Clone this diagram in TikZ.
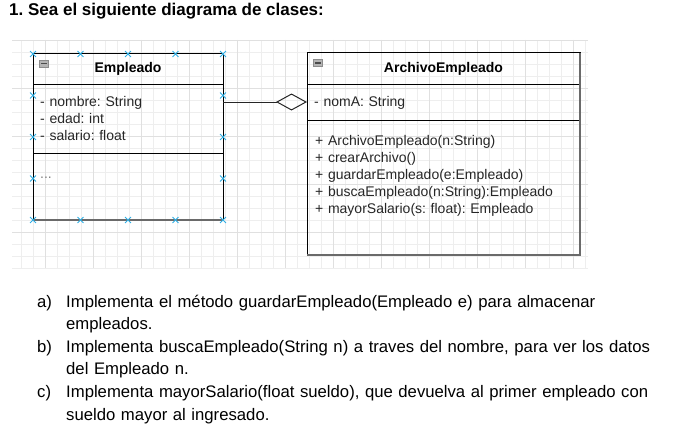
\documentclass[tikz,border=0pt]{standalone}
\usepackage{fontspec}
\setmainfont{Liberation Sans}
\usepackage{xcolor}
\usetikzlibrary{positioning,calc,arrows.meta,shapes.misc}
\definecolor{gridminor}{HTML}{EEEEEE}
\definecolor{gridmajor}{HTML}{E0E0E0}
\definecolor{handleblue}{HTML}{2FAEE4}
\definecolor{edgegray}{HTML}{6A6A6A}
\definecolor{togglefill}{HTML}{B4B4B4}
\definecolor{toggledraw}{HTML}{8C8C8C}
\frenchspacing
\newcommand{\umlfont}{\fontsize{14}{17}\selectfont}
\tikzset{
	compartment/.style={draw=black, line width=1pt, inner sep=0pt, outer sep=0pt, anchor=north west},
	header/.style={font=\umlfont\bfseries},
	members/.style={font=\umlfont, text=black!85, align=left, inner sep=0pt, anchor=base west, text width=260pt},
	handle/.style={cross out, draw=handleblue, line width=0.9pt, minimum size=5pt, inner sep=0pt},
	toggle/.style={draw=toggledraw, fill=togglefill, minimum width=9pt, minimum height=7pt, inner sep=0pt,
		path picture={\draw[line width=1pt, black!70] ([xshift=1.8pt]path picture bounding box.west) -- ([xshift=-1.8pt]path picture bounding box.east);}},
	aggregation/.style={draw=black!85, line width=1pt, -{Diamond[open, length=31pt, width=17pt]}},
	task/.style={font=\fontsize{16.7}{22.6}\selectfont, align=left, inner sep=0pt, anchor=base west, text width=600pt},
	tasklabel/.style={font=\fontsize{16.7}{22.6}\selectfont, inner sep=0pt, anchor=base west}
}

\begin{document}
\begin{tikzpicture}[x=1pt, y=-1pt]
	\useasboundingbox (0,0) rectangle (690,428);
	
	% canvas grid
	\foreach \gx in {21,33,...,585} \draw[gridminor, line width=0.6pt] (\gx,40) -- (\gx,268);
	\foreach \gy in {40,52,...,268} \draw[gridminor, line width=0.6pt] (12,\gy) -- (588,\gy);
	\foreach \gx in {45,93,...,573} \draw[gridmajor, line width=0.6pt] (\gx,40) -- (\gx,268);
	\foreach \gy in {40,88,...,232} \draw[gridmajor, line width=0.6pt] (12,\gy) -- (588,\gy);
	
	\node[font=\fontsize{17}{20}\selectfont\bfseries, inner sep=0pt, anchor=base west] (title) at (9,16) {1. Sea el siguiente diagrama de clases:};
	
	% class Empleado
	\node[compartment, header, minimum width=190pt, minimum height=30pt] (empleado-title) at (33,54) {Empleado};
	\node[compartment, minimum width=190pt, minimum height=69pt, below=0pt of empleado-title] (empleado-attrs) {};
	\node[compartment, minimum width=190pt, minimum height=67pt, below=0pt of empleado-attrs] (empleado-ops) {};
	\draw[edgegray, line width=1.6pt] (empleado-ops.south west) -- (empleado-ops.south east);
	\node[toggle] (empleado-toggle) at ([xshift=11pt,yshift=-9.5pt]empleado-title.north west) {};
	\node[members] (empleado-attr-list) at ([xshift=7pt,yshift=-22.7pt]empleado-attrs.north west) {- nombre: String\\- edad: int\\- salario: float};
	\node[members, text=black!50] (empleado-op-list) at ([xshift=7pt,yshift=-25pt]empleado-ops.north west) {...};
	
	% class ArchivoEmpleado
	\node[compartment, header, minimum width=273pt, minimum height=31pt] (archivo-title) at (307,53) {ArchivoEmpleado};
	\node[compartment, minimum width=273pt, minimum height=36pt, below=0pt of archivo-title] (archivo-attrs) {};
	\node[compartment, minimum width=273pt, minimum height=135pt, below=0pt of archivo-attrs] (archivo-ops) {};
	\draw[edgegray, line width=1.6pt] (archivo-title.north east) -- (archivo-ops.south east) -- (archivo-ops.south west);
	\node[toggle] (archivo-toggle) at ([xshift=11pt,yshift=-10pt]archivo-title.north west) {};
	\node[members] (archivo-attr-list) at ([xshift=7pt,yshift=-22.5pt]archivo-attrs.north west) {- nomA: String};
	\node[members] (archivo-op-list) at ([xshift=8pt,yshift=-25pt]archivo-ops.north west) {+ ArchivoEmpleado(n:String)\\+ crearArchivo()\\+ guardarEmpleado(e:Empleado)\\+ buscaEmpleado(n:String):Empleado\\+ mayorSalario(s: float): Empleado};
	
	\draw[aggregation] (archivo-attrs.west -| empleado-attrs.east) -- (archivo-attrs.west);
	
	% selection handles
	\foreach \f [count=\i] in {0,0.25,0.5,0.75,1} {
		\node[handle] (handle-top-\i) at ($(empleado-title.north west)!\f!(empleado-title.north east)$) {};
		\node[handle] (handle-bottom-\i) at ($(empleado-ops.south west)!\f!(empleado-ops.south east)$) {};
	}
	\foreach \f [count=\i] in {0.25,0.5,0.75} {
		\node[handle] (handle-left-\i) at ($(empleado-title.north west)!\f!(empleado-ops.south west)$) {};
		\node[handle] (handle-right-\i) at ($(empleado-title.north east)!\f!(empleado-ops.south east)$) {};
	}
	
	% tasks
	\node[tasklabel] (label-a) at (37,307) {a)};
	\node[task] (task-a) at (66,307) {Implementa el método guardarEmpleado(Empleado e) para almacenar\\empleados.};
	\node[tasklabel] (label-b) at (37,352.2) {b)};
	\node[task] (task-b) at (66,352.2) {Implementa buscaEmpleado(String n) a traves del nombre, para ver los datos\\del Empleado n.};
	\node[tasklabel] (label-c) at (37,397.4) {c)};
	\node[task] (task-c) at (66,397.4) {Implementa mayorSalario(float sueldo), que devuelva al primer empleado con\\sueldo mayor al ingresado.};
\end{tikzpicture}
\end{document}
